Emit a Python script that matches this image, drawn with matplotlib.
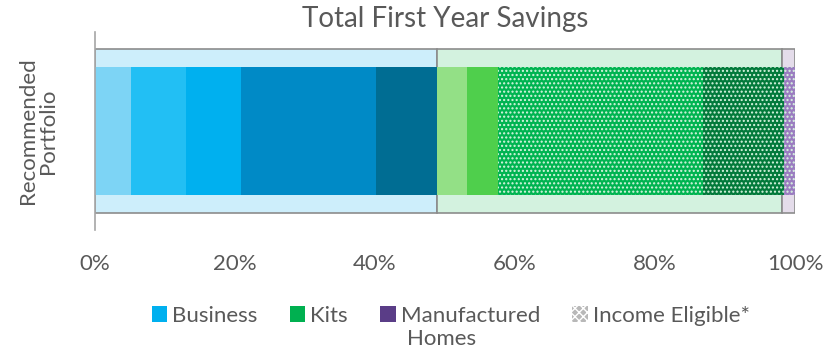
import matplotlib
matplotlib.use("Agg")
import matplotlib.pyplot as plt
from matplotlib.patches import Patch

plt.rcParams["font.family"] = ["Lato", "DejaVu Sans"]

# program group shares of total first-year savings (%)
group_names = ["Business", "Kits", "Other"]
group_shares = [48.8, 49.3, 1.9]
group_colors = ["#cdeefb", "#d3f2df", "#e4dcea"]

# individual measures inside the recommended portfolio (%)
segment_shares = [5.1, 7.9, 7.8, 19.3, 8.8, 4.3, 4.3, 29.4, 11.5, 1.6]
segment_colors = ["#7dd4f5", "#22bff4", "#00b0ef", "#008ac6", "#006d93",
                  "#93e086", "#4fcf4c", "#00b451", "#027a3b", "#9a7cc0"]
segment_hatch = ["", "", "", "", "", "", "", "....", "....", "...."]

legend_labels = ["Business", "Kits", "Manufactured", "Income Eligible*"]
legend_colors = ["#00b0ef", "#00b050", "#5a3d87", "#b8b8b8"]
wrapped_line = "Homes"

fig = plt.figure(figsize=(8.3, 3.53), dpi=100)
ax = fig.add_axes([0.1145, 0.3484, 0.8434, 0.5609])

left = 0.0
for share, color in zip(group_shares, group_colors):
    ax.barh(0, share, left=left, height=0.833, color=color,
            edgecolor="#8c8c8c", linewidth=1.2, zorder=1)
    left += share

left = 0.0
for share, color, hatch in zip(segment_shares, segment_colors, segment_hatch):
    ax.barh(0, share, left=left, height=0.646, color=color,
            edgecolor="#d8f5e0" if hatch else color, hatch=hatch,
            linewidth=0, zorder=2)
    left += share

ax.set_xlim(0, 100)
ax.set_ylim(-0.5, 0.5)
ax.set_xticks(range(0, 101, 20))
ax.set_xticklabels([f"{v}%" for v in range(0, 101, 20)], color="#595959", fontsize=16)
ax.tick_params(axis="x", length=0, pad=17)
ax.set_yticks([])
for side in ["top", "right", "bottom"]:
    ax.spines[side].set_visible(False)
ax.spines["left"].set_color("#a6a6a6")
ax.spines["left"].set_linewidth(1.2)

ax.set_ylabel("Recommended\nPortfolio", color="#595959", fontsize=16, labelpad=27,
              linespacing=1.0)
ax.set_title("Total First Year Savings", color="#595959", fontsize=20, pad=2)

handles = [Patch(facecolor=c, edgecolor="white" if i == 3 else c,
                 hatch="xxxx" if i == 3 else "", linewidth=0)
           for i, c in enumerate(legend_colors)]
leg = fig.legend(handles, legend_labels, loc="upper center", bbox_to_anchor=(0.543, 0.165),
                 ncol=4, frameon=False, fontsize=16, labelcolor="#595959",
                 handlelength=0.7, handleheight=0.7, handletextpad=0.22,
                 columnspacing=1.45, borderpad=0)

# second line of the "Manufactured Homes" entry, placed under its first line
fig.canvas.draw()
bb = leg.get_texts()[2].get_window_extent().transformed(fig.transFigure.inverted())
fig.text(bb.x0 + 0.008, bb.y0 - 0.01, wrapped_line, ha="left", va="top",
         fontsize=16, color="#595959")

fig.savefig("out.png", dpi=100)
